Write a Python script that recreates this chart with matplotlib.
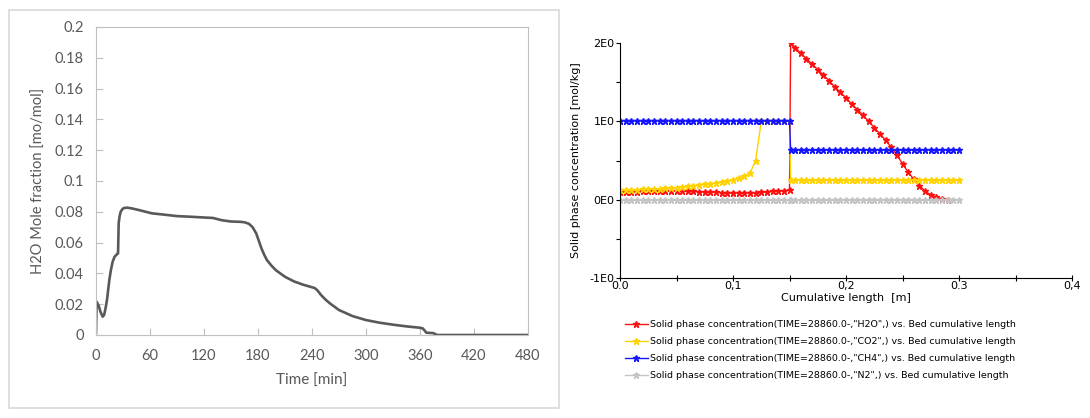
import numpy as np
import matplotlib
matplotlib.use("Agg")
import matplotlib.pyplot as plt
from matplotlib.patches import Rectangle
from matplotlib.ticker import FixedLocator, FuncFormatter

# left panel: outlet H2O mole fraction vs time
time_min = [0, 0.7, 3, 5, 7.4, 9, 10.5, 12.2, 14.8, 16.5, 18.5, 20.7, 23.6, 24.5,
            25.2, 26.2, 27.4, 29, 30.7, 34.4, 40, 50, 62, 75, 90, 105, 120, 130,
            140, 150, 160, 165, 170, 174, 178, 181, 184, 187, 190, 195, 200, 210,
            220, 230, 240, 243, 246, 250, 255, 260, 270, 285, 300, 315, 330, 345,
            360, 363, 365, 367, 375, 378, 380, 420, 480]
h2o_frac = [0.0013, 0.0216, 0.019, 0.015, 0.0119, 0.013, 0.017, 0.0227, 0.0357,
            0.042, 0.0476, 0.0509, 0.0526, 0.053, 0.0727, 0.077, 0.080, 0.0815,
            0.0824, 0.0827, 0.0822, 0.0808, 0.079, 0.0782, 0.0772, 0.0768, 0.0763,
            0.0760, 0.0745, 0.0737, 0.0735, 0.0732, 0.0722, 0.070, 0.066, 0.061,
            0.056, 0.052, 0.0486, 0.045, 0.042, 0.0378, 0.0348, 0.0327, 0.031,
            0.0305, 0.029, 0.026, 0.023, 0.0205, 0.0162, 0.0123, 0.0097, 0.008,
            0.0067, 0.0056, 0.0047, 0.0043, 0.003, 0.0015, 0.0012, 0.0002, 0.0,
            0.0, 0.0]
time_ticks = [0, 60, 120, 180, 240, 300, 360, 420, 480]
frac_ticks = [0, 0.02, 0.04, 0.06, 0.08, 0.1, 0.12, 0.14, 0.16, 0.18, 0.2]

# right panel: solid phase concentration along the bed
bed_x = [0.000, 0.005, 0.010, 0.015, 0.020, 0.025, 0.030, 0.035, 0.040, 0.045,
         0.050, 0.055, 0.060, 0.065, 0.070, 0.075, 0.080, 0.085, 0.090, 0.095,
         0.100, 0.105, 0.110, 0.115, 0.120, 0.125, 0.130, 0.135, 0.140, 0.145,
         0.150, 0.151,
         0.155, 0.160, 0.165, 0.170, 0.175, 0.180, 0.185, 0.190, 0.195, 0.200,
         0.205, 0.210, 0.215, 0.220, 0.225, 0.230, 0.235, 0.240, 0.245, 0.250,
         0.255, 0.260, 0.265, 0.270, 0.275, 0.280, 0.285, 0.290, 0.295, 0.300]
nan = np.nan
conc_h2o = [0.10, 0.10, 0.10, 0.10, 0.105, 0.105, 0.105, 0.105, 0.105, 0.11,
            0.11, 0.11, 0.105, 0.105, 0.10, 0.10, 0.095, 0.095, 0.09, 0.09,
            0.09, 0.09, 0.09, 0.09, 0.09, 0.095, 0.10, 0.105, 0.11, 0.115,
            0.12, 2.0,
            1.94, 1.87, 1.80, 1.73, 1.66, 1.59, 1.52, 1.44, 1.37, 1.30,
            1.22, 1.15, 1.08, 1.00, 0.92, 0.84, 0.76, 0.67, 0.57, 0.46,
            0.35, 0.26, 0.18, 0.11, 0.06, 0.03, 0.01, 0.0, nan, nan]
conc_co2 = [0.12, 0.12, 0.125, 0.125, 0.13, 0.135, 0.14, 0.14, 0.145, 0.15,
            0.155, 0.16, 0.17, 0.175, 0.185, 0.195, 0.205, 0.215, 0.225, 0.24,
            0.25, 0.275, 0.30, 0.34, 0.50, 1.0, 1.0, 1.0, 1.0, 1.0,
            1.0, 0.25,
            0.245, 0.245, 0.245, 0.245, 0.245, 0.245, 0.245, 0.245, 0.245, 0.245,
            0.245, 0.245, 0.245, 0.245, 0.245, 0.245, 0.245, 0.245, 0.245, 0.245,
            0.245, 0.245, 0.245, 0.245, 0.245, 0.245, 0.245, 0.245, 0.245, 0.245]
conc_ch4 = [1.01, 1.01, 1.01, 1.01, 1.01, 1.01, 1.01, 1.01, 1.01, 1.01,
            1.01, 1.01, 1.01, 1.01, 1.01, 1.01, 1.01, 1.01, 1.01, 1.01,
            1.01, 1.01, 1.01, 1.01, 1.01, 1.01, 1.01, 1.01, 1.01, 1.01,
            1.01, 0.64,
            0.635, 0.635, 0.635, 0.635, 0.635, 0.635, 0.635, 0.635, 0.635, 0.635,
            0.635, 0.635, 0.635, 0.635, 0.635, 0.635, 0.635, 0.635, 0.635, 0.635,
            0.635, 0.635, 0.635, 0.635, 0.635, 0.635, 0.635, 0.635, 0.635, 0.635]
conc_n2 = [0.0] * len(bed_x)
species = ["H2O", "CO2", "CH4", "N2"]
colors = ["#ff1010", "#ffd200", "#1515ff", "#c4c4c4"]
len_ticks = [0.0, 0.1, 0.2, 0.3, 0.4]
len_labels = ["0.0", "0,1", "0,2", "0.3", "0,4"]
conc_ticks = [-1, 0, 1, 2]
conc_labels = ["-1E0", "0E0", "1E0", "2E0"]

W, H = 1090, 418
fig = plt.figure(figsize=(W / 100, H / 100), dpi=100)

# ---- left chart (excel style) ----
fig.patches.append(Rectangle((9 / W, (H - 408) / H), 550 / W, 398 / H,
                             transform=fig.transFigure, fill=False,
                             ec="#d9d9d9", lw=1.2))
ax1 = fig.add_axes([96 / W, (H - 335) / H, 432 / W, 308 / H])
ax1.plot(time_min, h2o_frac, color="#595959", lw=1.9)
ax1.set_xlim(0, 480)
ax1.set_ylim(0, 0.2)
ax1.set_xticks(time_ticks)
ax1.set_yticks(frac_ticks)
ax1.yaxis.set_major_formatter(FuncFormatter(lambda v, p: "%g" % round(v, 2)))
for s in ax1.spines.values():
    s.set_color("#c0c0c0")
ax1.tick_params(direction="in", length=5, color="#c0c0c0", labelcolor="#595959",
                labelsize=10.5, pad=9)
ax1.tick_params(axis="x", pad=10)
for lab in ax1.get_xticklabels() + ax1.get_yticklabels():
    lab.set_family("Lato")
ax1.set_xlabel("Time [min]", color="#595959", fontsize=11, labelpad=8,
               family="Lato")
ax1.set_ylabel("H2O Mole fraction [mo/mol]", color="#595959", fontsize=10.5,
               labelpad=6, family="Lato")

# ---- right chart ----
ax2 = fig.add_axes([620 / W, (H - 278) / H, 452 / W, 235 / H])
conc_all = [conc_h2o, conc_co2, conc_ch4, conc_n2]
for name, vals, c in zip(species, conc_all, colors):
    ax2.plot(bed_x, vals, color=c, lw=1.0, marker="*", ms=4.5, mec=c, mfc=c,
             label='Solid phase concentration(TIME=28860.0-,"%s",) vs. Bed cumulative length' % name)
ax2.set_xlim(0, 0.4)
ax2.set_ylim(-1, 2)
ax2.spines["top"].set_visible(False)
ax2.spines["right"].set_visible(False)
ax2.set_xticks(len_ticks)
ax2.set_xticklabels(len_labels)
ax2.xaxis.set_minor_locator(FixedLocator([0.05, 0.15, 0.25, 0.35]))
ax2.set_yticks(conc_ticks)
ax2.set_yticklabels(conc_labels)
ax2.yaxis.set_minor_locator(FixedLocator([-0.5, 0.5, 1.5]))
ax2.tick_params(axis="x", which="both", direction="inout", length=5, width=0.8,
                labelsize=8, pad=0)
ax2.tick_params(axis="y", which="both", direction="out", length=3, width=0.8,
                labelsize=8, pad=1)
ax2.set_xlabel("Cumulative length  [m]", fontsize=8, labelpad=1)
ax2.set_ylabel("Solid phase concentration [mol/kg]", fontsize=8, labelpad=6)

fig.legend(loc="upper left", bbox_to_anchor=(625 / W, (H - 320) / H),
           frameon=False, fontsize=6.8, handlelength=2.4, handletextpad=0.2,
           labelspacing=0.85, numpoints=1, borderaxespad=0, borderpad=0)

fig.savefig("out.png", dpi=100)
